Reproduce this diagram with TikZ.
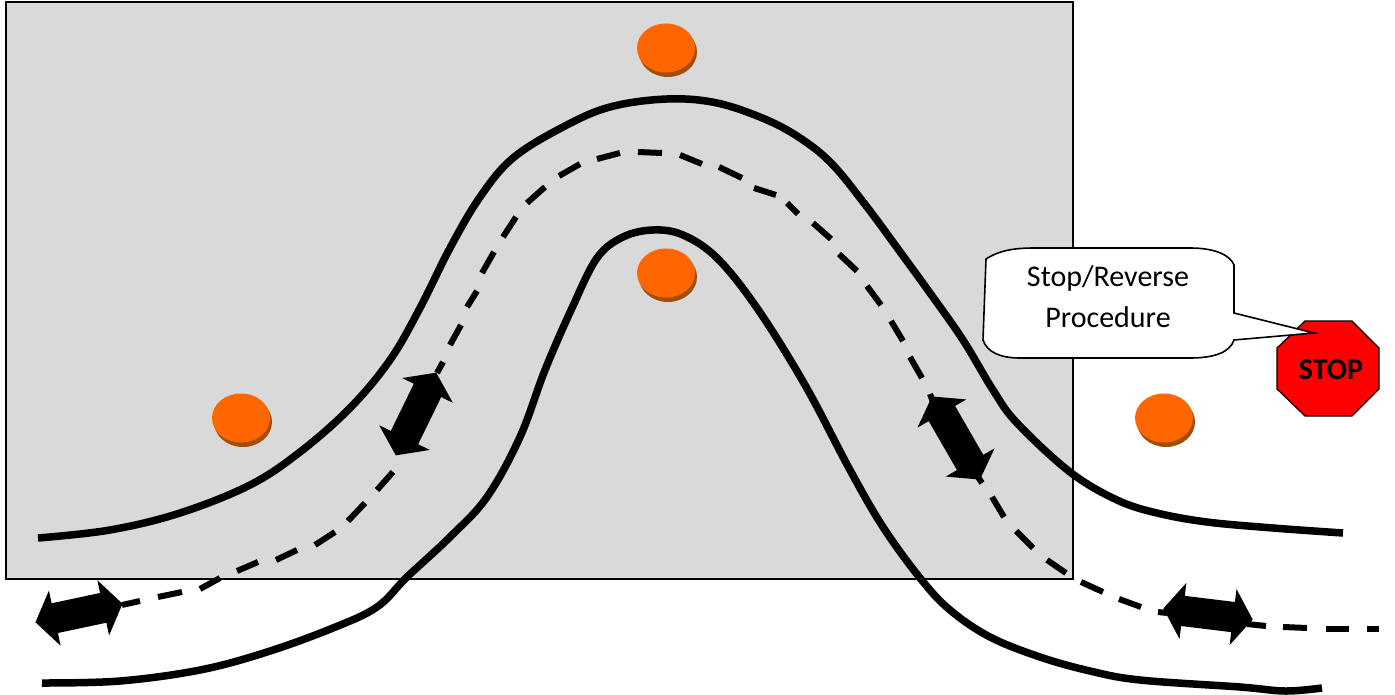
\documentclass[tikz,border=0pt]{standalone}
\usepackage{fontspec}
\setmainfont{Carlito}
\usetikzlibrary{shapes.arrows}
\definecolor{zonegray}{HTML}{D9D9D9}
\definecolor{coneorange}{HTML}{FF6600}
\definecolor{conebrown}{HTML}{A04F0A}
\tikzset{
  edgeline/.style={line width=7.5pt},
  centerdash/.style={line width=6pt},
  flowarrow/.style={double arrow, fill=black, inner xsep=0pt, inner ysep=15pt, minimum width=56pt,
    minimum height=92pt, double arrow head extend=13pt, double arrow tip angle=110},
}
\begin{document}
\begin{tikzpicture}[x=1pt, y=-1pt]
  \useasboundingbox (0,0) rectangle (1395,695);
  % Work zone, with the bend running through it
  \draw[fill=zonegray, line width=2pt] (6,2) rectangle (1073,579);
  % Road edges
  \draw[edgeline] plot[smooth, tension=0.6] coordinates {(38,538) (110,530) (180,513) (250,485) (300,452)
    (350,408) (390,360) (420,308) (450,248) (480,197) (513,158) (563,127) (610,107)
    (667,99) (717,103) (767,120) (803,140) (833,165) (867,207) (898,249) (930,293) (963,340) (993,390)
    (1017,423) (1070,472) (1117,500) (1157,513) (1207,522) (1273,528) (1343,533)};
  \draw[edgeline] plot[smooth, tension=0.6] coordinates {(42,683) (120,681) (200,670) (267,652) (333,628)
    (377,607) (407,577) (450,537) (487,497) (520,437) (545,370) (572,308) (597,258) (623,237) (653,230)
    (683,235) (717,258) (757,308) (805,385) (850,470) (883,527) (920,578) (950,610) (990,637) (1040,657)
    (1090,671) (1140,680) (1240,687) (1285,691) (1322,688)};
  % Center line, one dash at a time
  \foreach \ax/\ay/\bx/\by in {122/605/140/601, 158/597/182/592, 200/589/220/578, 237/571/258/562,
    276/560/297/550, 315/545/335/532, 348/521/365/503, 377/490/393/472, 437/373/443/362, 450/345/461/325,
    467/307/477/291, 482/273/494/252, 503/237/516/217, 527/203/545/187, 559/176/580/164, 597/159/620/153,
    638/152/662/153, 680/155/702/164, 719/167/742/178, 754/188/776/195, 787/203/798/214, 813/223/831/239,
    839/254/857/271, 867/286/881/305, 891/321/903/341, 910/357/922/378, 930/394/933/402, 978/477/982/483,
    992/497/1004/517, 1016/531/1033/548, 1047/560/1066/573, 1081/582/1103/592, 1119/599/1141/607,
    1158/612/1167/613, 1247/624/1266/626, 1283/627/1307/628, 1326/629/1349/629, 1367/629/1379/629} {
    \draw[centerdash] (\ax,\ay) -- (\bx,\by);
  }
  % Cones: brown offset disc under an orange one
  \foreach \name/\x/\y in {top/666/48, inner/666/273, left/241/418, right/1164/418} {
    \fill[conebrown] (\x+2,\y+4) ellipse (29 and 25);
    \fill[coneorange] (\x,\y) ellipse (29 and 24.5) node (cone\name) {};
  }
  % Direction arrows
  \node[flowarrow, rotate=12, minimum height=89pt] (arrowa) at (79,613) {};
  \node[flowarrow, rotate=64] (arrowb) at (416,414) {};
  \node[flowarrow, rotate=-60, minimum height=96pt] (arrowc) at (956,438) {};
  \node[flowarrow, rotate=-7, minimum height=90pt] (arrowd) at (1208,614) {};
  % Stop sign
  \draw[fill=red, line width=1.2pt] (1305,321) -- (1352,321) -- (1379,348) -- (1379,389)
    -- (1352,416) -- (1305,416) -- (1277,389) -- (1277,348) -- cycle;
  \node[font=\fontsize{30}{34}\selectfont\bfseries] (stoptext) at (1331,370) {STOP};
  % Callout, its tail reaching into the sign
  \draw[fill=white, line width=1.6pt] (986,259) .. controls (1000,250) and (1015,248) .. (1035,248)
    -- (1190,248) .. controls (1215,248) and (1230,255) .. (1234,265) -- (1234,313) -- (1314,333)
    -- (1234,340) .. controls (1230,352) and (1215,358) .. (1190,358) -- (1020,358)
    .. controls (1000,358) and (987,352) .. (983,340) -- cycle;
  \node[font=\fontsize{30}{41}\selectfont, align=center] (calltext) at (1108,297) {Stop/Reverse\\Procedure};
\end{tikzpicture}
\end{document}
